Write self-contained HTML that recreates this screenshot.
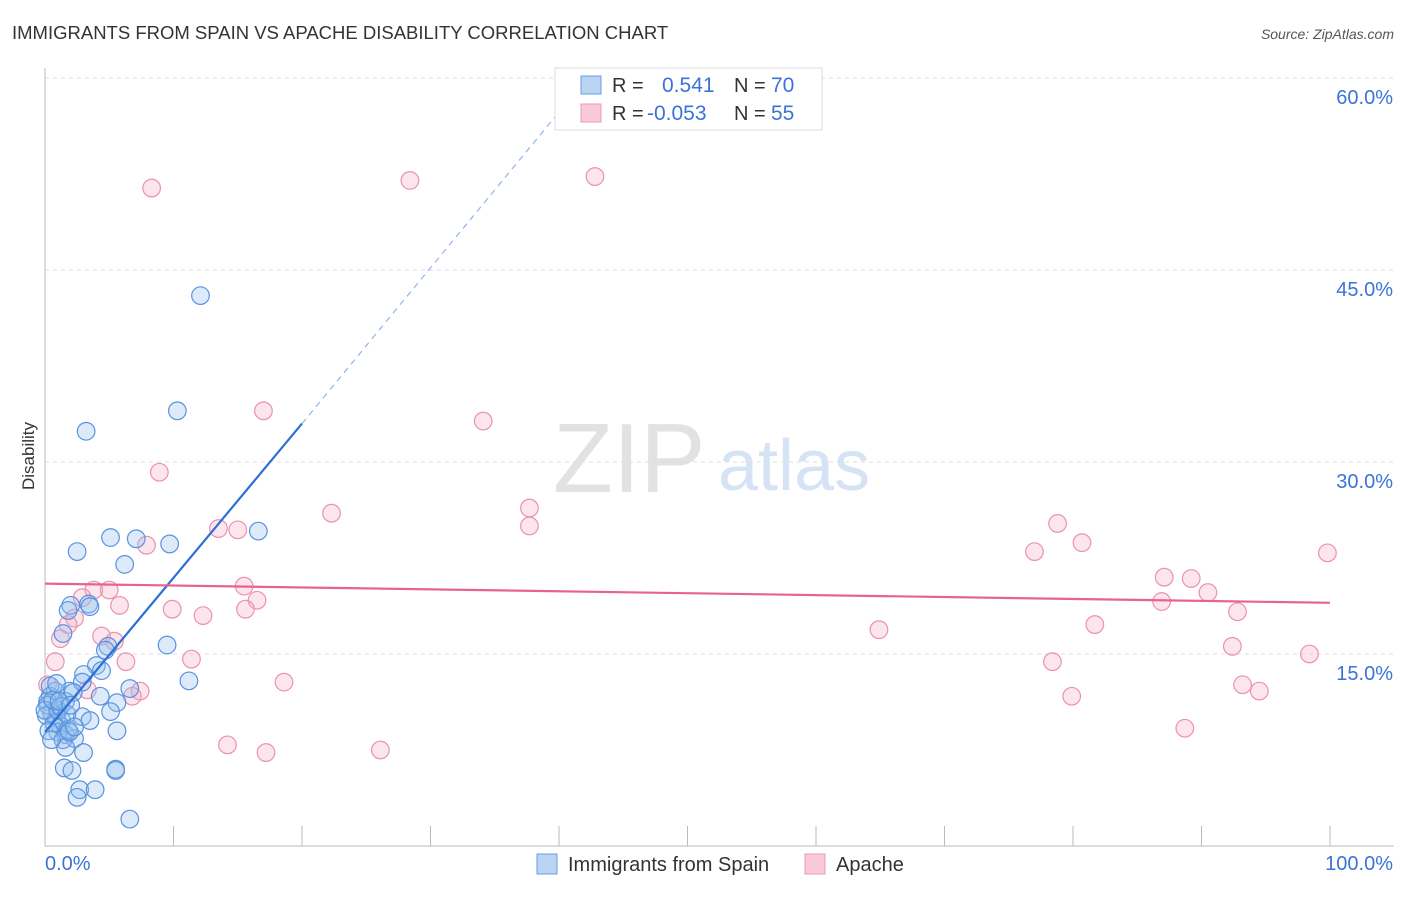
<!DOCTYPE html>
<html><head><meta charset="utf-8"><style>
body{margin:0;background:#fff;font-family:"Liberation Sans",sans-serif;}
svg text{font-family:"Liberation Sans",sans-serif;}
</style></head><body>
<svg id="chart" width="1406" height="892">
<text x="12" y="39" font-size="18.5" fill="#333">IMMIGRANTS FROM SPAIN VS APACHE DISABILITY CORRELATION CHART</text>
<text x="1394" y="39" font-size="14" fill="#555" font-style="italic" text-anchor="end">Source: ZipAtlas.com</text>
<text x="34" y="456" font-size="17" fill="#333" transform="rotate(-90 34 456)" text-anchor="middle">Disability</text>
<text x="553" y="492" font-size="98" fill="#e2e2e2" font-family="Liberation Serif">ZIP</text>
<text x="718" y="490" font-size="72" fill="#d5e3f5">atlas</text>
<g id="grid"></g><g id="axes"></g><g id="pink"></g><g id="blue"></g><g id="lines"></g>
<g>
<rect x="555" y="68" width="267" height="62" fill="#fff" stroke="#ddd"/>
<rect x="581" y="76" width="20" height="18" fill="#b9d3f3" stroke="#6a9ee0"/>
<rect x="581" y="104" width="20" height="18" fill="#f9c9d7" stroke="#ee9ab3"/>
<text x="612" y="92" font-size="20" fill="#333">R = </text><text x="662" y="92" font-size="21" fill="#3b73d9">0.541</text>
<text x="734" y="92" font-size="20" fill="#333">N = </text><text x="771" y="92" font-size="21" fill="#3b73d9">70</text>
<text x="612" y="120" font-size="20" fill="#333">R = </text><text x="647" y="120" font-size="21" fill="#3b73d9">-0.053</text>
<text x="734" y="120" font-size="20" fill="#333">N = </text><text x="771" y="120" font-size="21" fill="#3b73d9">55</text>
</g>
<g>
<rect x="537" y="854" width="20" height="20" fill="#b9d3f3" stroke="#6a9ee0"/>
<text x="568" y="871" font-size="20" fill="#333">Immigrants from Spain</text>
<rect x="805" y="854" width="20" height="20" fill="#f9c9d7" stroke="#ee9ab3"/>
<text x="836" y="871" font-size="20" fill="#333">Apache</text>
</g>
<text x="45" y="870" font-size="20" fill="#3b73d9">0.0%</text>
<text x="1393" y="870" font-size="20" fill="#3b73d9" text-anchor="end">100.0%</text>
</svg>
<script>
const yTicks=[15,30,45,60];
const yTickLabels=["15.0%","30.0%","45.0%","60.0%"];
const blueX=[12.1,10.3,3.2,16.6,5.1,7.1,9.7,2.5,6.2,3.4,2.0,1.8,3.5,1.4,9.5,4.9,4.7,4.0,3.0,4.4,11.2,1.9,2.9,6.6,4.3,5.6,0.8,0.4,0.2,1.6,5.1,2.9,0.5,0.9,1.3,1.2,1.0,1.6,2.3,1.4,5.6,1.6,3.0,1.5,2.1,5.5,5.5,2.7,2.5,3.9,6.6,0.2,0.1,0.7,1.8,0.4,0.9,2.2,0.0,0.3,1.9,1.0,3.5,0.6,1.2,1.7,2.3,0.5,1.1,2.0];
const blueY=[43.0,34.0,32.4,24.6,24.1,24.0,23.6,23.0,22.0,18.9,18.8,18.4,18.7,16.6,15.7,15.6,15.3,14.1,13.4,13.7,12.9,12.1,12.8,12.3,11.7,11.2,12.1,11.7,11.3,11.3,10.5,10.1,10.4,10.0,9.8,9.4,8.9,8.7,8.4,8.3,9.0,7.7,7.3,6.1,5.9,6.0,5.9,4.4,3.8,4.4,2.1,11.0,10.2,9.6,9.1,12.5,12.7,12.0,10.6,9.0,8.9,10.6,9.8,11.4,10.9,10.3,9.3,8.3,11.3,11.0];
const pinkX=[8.3,28.4,42.8,17.0,34.1,8.9,22.3,37.7,37.7,13.5,15.0,7.9,78.8,77.0,80.7,99.8,15.5,3.8,5.0,16.5,2.9,5.8,9.9,12.3,15.6,2.3,1.8,87.1,89.2,90.5,86.9,92.8,81.7,64.9,1.2,4.4,5.4,11.4,6.3,0.8,92.4,78.4,98.4,18.6,79.9,93.2,94.5,7.4,6.8,3.3,88.7,14.2,17.2,26.1,0.2];
const pinkY=[51.4,52.0,52.3,34.0,33.2,29.2,26.0,26.4,25.0,24.8,24.7,23.5,25.2,23.0,23.7,22.9,20.3,20.0,20.0,19.2,19.4,18.8,18.5,18.0,18.5,17.8,17.3,21.0,20.9,19.8,19.1,18.3,17.3,16.9,16.2,16.4,16.0,14.6,14.4,14.4,15.6,14.4,15.0,12.8,11.7,12.6,12.1,12.1,11.7,12.2,9.2,7.9,7.3,7.5,12.6];
const blueTrend=[0,20]; const blueTrendY=[8.9,33.0]; const blueDashEnd=[41.2,58.8];
const pinkTrend=[0,100]; const pinkTrendY=[20.5,19.0];
const X0=45,X1=1330,Y0=846,PY=192/15;
const sx=v=>X0+(X1-X0)*v/100, sy=v=>Y0-v*PY;
const NS="http://www.w3.org/2000/svg";
function mk(t,a,p){const e=document.createElementNS(NS,t);for(const k in a)e.setAttribute(k,a[k]);document.getElementById(p).appendChild(e);return e;}
yTicks.forEach((t,i)=>{
 const g=mk('line',{x1:45,x2:1394,y1:sy(t),y2:sy(t),stroke:'#ddd','stroke-dasharray':'4,4'},'grid');
 
 
 const l=mk('text',{x:1393,y:sy(t)+26,'font-size':20,fill:'#3b73d9','text-anchor':'end'},'grid');
 l.textContent=yTickLabels[i];
 
 
});
const ax=mk('line',{x1:45,x2:1394,y1:846,y2:846,stroke:'#bbb'},'axes');


const ay=mk('line',{x1:45,x2:45,y1:68,y2:846,stroke:'#bbb'},'axes');


for(let i=0;i<=10;i++){const t=mk('line',{x1:sx(i*10),x2:sx(i*10),y1:826,y2:846,stroke:'#bbb'},'axes');
 
 }
pinkX.forEach((x,i)=>{const c=mk('circle',{cx:sx(x),cy:sy(pinkY[i]),r:8.8,fill:'rgba(246,170,195,0.3)',stroke:'#eb92ae','stroke-width':1.2},'pink');
 
 });
blueX.forEach((x,i)=>{const c=mk('circle',{cx:sx(x),cy:sy(blueY[i]),r:8.8,fill:'rgba(150,190,238,0.33)',stroke:'#5a92df','stroke-width':1.2},'blue');
 
 });
const bl=mk('line',{x1:sx(blueTrend[0]),y1:sy(blueTrendY[0]),x2:sx(blueTrend[1]),y2:sy(blueTrendY[1]),stroke:'#2c6fd6','stroke-width':2.2},'lines');


const bd=mk('line',{x1:sx(blueTrend[1]),y1:sy(blueTrendY[1]),x2:sx(blueDashEnd[0]),y2:sy(blueDashEnd[1]),stroke:'#8fb4ea','stroke-width':1.2,'stroke-dasharray':'6,5'},'lines');


const pl=mk('line',{x1:sx(pinkTrend[0]),y1:sy(pinkTrendY[0]),x2:sx(pinkTrend[1]),y2:sy(pinkTrendY[1]),stroke:'#e8628f','stroke-width':2.2},'lines');


</script>
</body></html>
